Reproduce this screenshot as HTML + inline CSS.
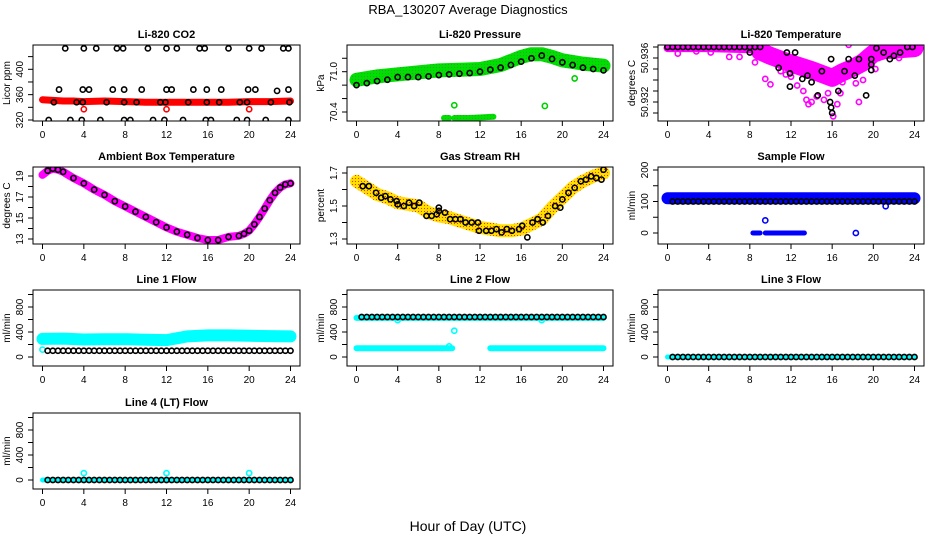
<!DOCTYPE html>
<html><head><meta charset="utf-8"><title>RBA_130207 Average Diagnostics</title>
<style>
html,body{margin:0;padding:0;background:#fff;}
svg{display:block;font-family:"Liberation Sans",Arial,sans-serif;}
</style></head>
<body>
<svg id="chart" width="936" height="540" viewBox="0 0 936 540" xmlns="http://www.w3.org/2000/svg">
<defs>
<pattern id="greenpat" width="3" height="3" patternUnits="userSpaceOnUse"><rect width="3" height="3" fill="#00e000"/><rect x="1" y="1" width="1" height="1" fill="#30a030"/></pattern>
<pattern id="rhpat" width="3" height="3" patternUnits="userSpaceOnUse"><rect width="3" height="3" fill="#ffe000"/><rect x="1" y="1" width="1" height="1" fill="#ff3000"/></pattern>
</defs>
<text x="468" y="14" text-anchor="middle" font-size="13">RBA_130207  Average Diagnostics</text>
<text x="468" y="531" text-anchor="middle" font-size="14">Hour of Day (UTC)</text>
</svg>
<script>
// ---- data ----
const halfHours = [0.5,1,1.5,2,2.5,3,3.5,4,4.5,5,5.5,6,6.5,7,7.5,8,8.5,9,9.5,10,10.5,11,11.5,12,12.5,13,13.5,14,14.5,15,15.5,16,16.5,17,17.5,18,18.5,19,19.5,20,20.5,21,21.5,22,22.5,23,23.5,24];
const xTicks = [0,4,8,12,16,20,24];

// CO2
const co2BandH = [0,1,2,3,4,6,8,10,12,14,16,18,20,22,24];
const co2BandV = [352,351,350,350,349,350,349,348,348,348,348,348,349,349,350];
const co2RedOutH = [4,12,20];
const co2RedOutV = [337,337,337];
const co2BlackH = [2.2,4,5.2,7.2,7.8,10.2,12,13,15.2,15.7,18,20,21.2,23.3,23.8,
 1.6,3.9,4.5,6.8,7.9,9.6,12,12.5,14.6,15.9,17.3,19.9,20.6,22.7,23.8,
 1.1,3.3,3.9,6.2,7.9,9.1,11.4,11.9,14.1,15.9,17.1,19.1,19.8,22.1,23.9,
 0.6,2.7,3.8,5.6,7.9,8.5,10.7,11.8,13.6,15.8,16.3,18.8,19.8,21.6,23.8];
const co2BlackV = [433,433,433,433,433,433,433,433,433,433,433,433,433,433,433,
 368,368,368,368,368,368,368,368,368,368,368,368,368,366,368,
 348,348,348,348,348,348,348,348,348,348,348,348,348,348,348,
 320,320,320,320,320,320,320,320,320,320,320,320,320,320,320];

// Pressure
const presBandH = [0,2,4,6,8,10,12,14,16,17,18,19,20,22,24];
const presBandV = [70.88,70.93,70.96,70.99,71.02,71.03,71.04,71.10,71.22,71.26,71.26,71.22,71.17,71.12,71.09];
const presLowAH = [8.5,9.0];
const presLowAV = [70.31,70.31];
const presLowBH = [9.5,11,13.3];
const presLowBV = [70.31,70.31,70.33];
const presOutH = [9.5,18.3,21.2];
const presOutV = [70.50,70.49,70.90];
const presBlackH = [0,1,2,3,4,5,6,7,8,9,10,11,12,13,14,15,16,17,18,19,20,21,22,23,24];
const presBlackV = [70.80,70.83,70.86,70.88,70.92,70.92,70.92,70.93,70.95,70.96,70.97,70.98,71.00,71.03,71.06,71.10,71.15,71.20,71.24,71.19,71.14,71.10,71.06,71.04,71.02];

// Li-820 temperature
const tempTopH = [0,4,8,9];
const tempTopV = [50.9369,50.9369,50.9368,50.9366];
const tempBandH = [9,10,12,14,16,17,18,19,20,21,24];
const tempBandV = [50.9366,50.9362,50.9355,50.9349,50.9342,50.9347,50.9351,50.9356,50.9364,50.9367,50.9369];
const tempMagH = [1,2.8,4.2,6,7,8.5,9.5,10,11,11.5,12,12.6,13.2,13.5,14,14.5,15.2,15.6,16.1,16.5,16.8,17,17.6,18.3,18.6,19,20.2,20.5,22.5,13.7];
const tempMagV = [50.9364,50.9366,50.9365,50.9361,50.9361,50.9356,50.9341,50.9336,50.9348,50.9345,50.9343,50.9335,50.9330,50.9322,50.9320,50.9325,50.9322,50.9328,50.9307,50.9318,50.9328,50.9338,50.9372,50.9337,50.9320,50.9340,50.9350,50.9360,50.9360,50.9318];
const tempBlackH = [0,0.5,1,1.5,2,2.5,3,3.5,4,4.5,5,5.5,6,6.5,7,7.5,8,8.5,9,
 8,10.8,11.6,11.9,11.9,12.4,13.1,13.6,14.0,14.6,15.0,15.8,15.9,16.0,15.9,16.6,17.2,17.6,18.2,18.6,19.3,19.8,19.8,19.8,20.3,21.0,21.6,22.0,22.6,23.3,23.8];
const tempBlackV = [50.937,50.937,50.937,50.937,50.937,50.937,50.937,50.937,50.937,50.937,50.937,50.937,50.937,50.937,50.937,50.937,50.937,50.937,50.937,
 50.9365,50.9351,50.9365,50.9346,50.9334,50.9365,50.9341,50.9344,50.9338,50.9326,50.9348,50.9320,50.9315,50.9310,50.9359,50.9330,50.9348,50.9359,50.9344,50.9359,50.9326,50.9359,50.9354,50.9349,50.9369,50.9365,50.9359,50.9362,50.9365,50.9370,50.9370];

// Ambient box temperature
const ambH = [0,0.5,1,1.5,2,3,4,5,6,7,8,9,10,11,12,13,14,15,16,17,18,19,19.5,20,20.5,21,21.5,22,22.5,23,23.5,24];
const ambV = [19.1,19.5,19.7,19.6,19.4,18.8,18.3,17.7,17.2,16.6,16.1,15.6,15.1,14.6,14.1,13.7,13.4,13.1,12.9,12.9,13.2,13.3,13.5,13.8,14.4,15.1,15.9,16.7,17.4,17.9,18.2,18.3];

// Gas stream RH
const rhBandH = [0,1,2,3,4,5,6,7,8,9,10,11,12,13,14,15,16,17,18,19,20,21,22,23,24];
const rhBandV = [1.65,1.61,1.57,1.55,1.52,1.51,1.50,1.46,1.44,1.43,1.41,1.39,1.37,1.36,1.35,1.35,1.36,1.39,1.42,1.49,1.55,1.61,1.65,1.68,1.70];
const rhBlackH = [0.6,1.2,1.9,2.4,2.8,3.3,3.9,4.0,4.6,5.1,5.6,6.1,6.8,7.3,7.8,8.0,8.0,8.6,9.1,9.6,10.1,10.6,11.2,11.8,11.9,12.6,13.1,13.6,14.1,14.6,15.1,15.8,16.1,16.6,17.1,17.6,18.1,18.6,19.3,19.8,20.0,20.6,21.2,21.8,22.3,22.8,23.3,23.8,24];
const rhBlackV = [1.62,1.62,1.58,1.55,1.56,1.54,1.53,1.51,1.50,1.52,1.50,1.52,1.44,1.44,1.45,1.47,1.49,1.46,1.42,1.42,1.42,1.40,1.40,1.40,1.35,1.35,1.35,1.36,1.34,1.36,1.35,1.36,1.38,1.31,1.40,1.42,1.40,1.44,1.50,1.49,1.54,1.58,1.61,1.65,1.66,1.68,1.67,1.66,1.72];

// Sample flow
const sfBandH = [0,24];
const sfBandV = [110,110];
const sfZeroAH = [8.3,9.0];
const sfZeroAV = [0,0];
const sfZeroBH = [9.5,13.3];
const sfZeroBV = [0,0];
const sfOutH = [9.5,18.3,21.2];
const sfOutV = [40,0,85];
const sfBlackV = [100,100,100,100,100,100,100,100,100,100,100,100,100,100,100,100,100,100,100,100,100,100,100,100,100,100,100,100,100,100,100,100,100,100,100,100,100,100,100,100,100,100,100,100,100,100,100,100];

// Line flows
const l1BandH = [0,2,4,6,8,10,12,13,14,16,18,20,22,24];
const l1BandV = [290,295,280,285,285,275,270,300,330,345,345,340,335,330];
const l1BlackV = [100,100,100,100,100,100,100,100,100,100,100,100,100,100,100,100,100,100,100,100,100,100,100,100,100,100,100,100,100,100,100,100,100,100,100,100,100,100,100,100,100,100,100,100,100,100,100,100];
const l2UpperH = [0,24];
const l2UpperV = [625,625];
const l2LowAH = [0,9.3];
const l2LowAV = [140,140];
const l2LowBH = [13,24];
const l2LowBV = [140,140];
const l2OutH = [9.5,4,18,9];
const l2OutV = [420,590,590,170];
const l2BlackV = [640,640,640,640,640,640,640,640,640,640,640,640,640,640,640,640,640,640,640,640,640,640,640,640,640,640,640,640,640,640,640,640,640,640,640,640,640,640,640,640,640,640,640,640,640,640,640,640];
const flatBandH = [0,24];
const flatBandV = [0,0];
const zeroBlackV = [0,0,0,0,0,0,0,0,0,0,0,0,0,0,0,0,0,0,0,0,0,0,0,0,0,0,0,0,0,0,0,0,0,0,0,0,0,0,0,0,0,0,0,0,0,0,0,0];
const l4OutH = [4,12,20];
const l4OutV = [110,110,110];

// ---- drawing ----
const NS = "http://www.w3.org/2000/svg";
const svg = document.getElementById('chart');
function mk(tag, attrs, parent){
  const e = document.createElementNS(NS, tag);
  for (const k in attrs) e.setAttribute(k, attrs[k]);
  (parent||svg).appendChild(e);
  return e;
}
function makePanel(id, title, x0, y0, x1, y1, d0, p0, d1, p1, ticks, labels, labelText, ylab){
  const g = mk('g', {});
  
  
  const P = {g:g, x0:x0, x1:x1, y0:y0, y1:y1};
  P.x = h => x0 + 9.5 + h * (x1 - x0 - 19) / 24;
  P.y = v => p0 + (v - d0) * (p1 - p0) / (d1 - d0);
  const clip = mk('clipPath', {id: 'clip-' + id}, g);
  mk('rect', {x:x0, y:y0, width:x1-x0, height:y1-y0}, clip);
  P.data = mk('g', {'clip-path': 'url(#clip-' + id + ')'}, g);
  
  
  const frame = mk('rect', {x:x0, y:y0, width:x1-x0, height:y1-y0, fill:'none', stroke:'#000', 'stroke-width':1}, g);
  
  
  const t = mk('text', {x:(x0+x1)/2, y:y0-7, 'text-anchor':'middle', 'font-size':11, 'font-weight':'bold'}, g);
  t.textContent = title;
  
  
  xTicks.forEach(h => {
    const xx = P.x(h);
    mk('line', {x1:xx, y1:y1, x2:xx, y2:y1+5, stroke:'#000'}, g);
    const lt = mk('text', {x:xx, y:y1+17, 'text-anchor':'middle', 'font-size':10}, g);
    lt.textContent = String(h);
    
    
  });
  ticks.forEach(v => {
    const yy = P.y(v);
    if (yy < y0 - 1 || yy > y1 + 1) return;
    mk('line', {x1:x0-5, y1:yy, x2:x0, y2:yy, stroke:'#000'}, g);
  });
  labels.forEach((v,i) => {
    const yy = P.y(v);
    const lt = mk('text', {x:0, y:0, 'text-anchor':'middle', 'font-size':10, transform:'translate(' + (x0-10) + ',' + yy + ') rotate(-90)'}, g);
    lt.textContent = labelText[i];
    
    
  });
  const yl = mk('text', {x:0, y:0, 'text-anchor':'middle', 'font-size':10, transform:'translate(' + (x0-23) + ',' + ((y0+y1)/2) + ') rotate(-90)'}, g);
  yl.textContent = ylab;
  
  
  return P;
}
function band(P, H, V, color, w, name){
  const pts = H.map((h,i) => P.x(h).toFixed(1) + ',' + P.y(V[i]).toFixed(1)).join(' ');
  const pl = mk('polyline', {points:pts, fill:'none', stroke:color, 'stroke-width':w, 'stroke-linecap':'round', 'stroke-linejoin':'round'}, P.data);
  
  
}
function dots(P, H, V, color, name, r){
  H.forEach((h,i) => {
    const c = mk('circle', {cx:P.x(h), cy:P.y(V[i]), r:r||2.6, fill:'none', stroke:color, 'stroke-width':1.6}, P.data);
    
    
  });
}

// Row 1
const pCO2 = makePanel('co2', 'Li-820 CO2', 33,45,300,121, 320,120, 400,69.3, [320,340,360,380,400,420], [320,360,400], ['320','360','400'], 'Licor ppm');
band(pCO2, co2BandH, co2BandV, '#ff0000', 7, 'co2-raw-band');
dots(pCO2, co2RedOutH, co2RedOutV, '#ff0000', 'co2-raw-point');
dots(pCO2, co2BlackH, co2BlackV, '#000', 'co2-mean-point');

const pPres = makePanel('pressure', 'Li-820 Pressure', 347,45,613,121, 70.4,112, 71.0,71.7, [70.4,70.6,70.8,71.0,71.2], [70.4,71.0], ['70.4','71.0'], 'kPa');
band(pPres, presBandH, presBandV, 'url(#greenpat)', 14, 'pressure-raw-band');
band(pPres, presLowAH, presLowAV, 'url(#greenpat)', 6, 'pressure-low-band');
band(pPres, presLowBH, presLowBV, 'url(#greenpat)', 6, 'pressure-low-band');
dots(pPres, presOutH, presOutV, '#00d000', 'pressure-raw-point');
dots(pPres, presBlackH, presBlackV, '#000', 'pressure-mean-point');

const pTemp = makePanel('li820-temp', 'Li-820 Temperature', 658,45,924,121, 50.936,58, 50.932,102, [50.931,50.932,50.933,50.934,50.935,50.936,50.937], [50.932,50.936], ['50.932','50.936'], 'degrees C');
band(pTemp, tempTopH, tempTopV, '#ff00ff', 8, 'li820-temp-raw-band');
band(pTemp, tempBandH, tempBandV, '#ff00ff', 18, 'li820-temp-raw-band');
dots(pTemp, tempMagH, tempMagV, '#ff00ff', 'li820-temp-raw-point');
dots(pTemp, tempBlackH, tempBlackV, '#000', 'li820-temp-mean-point');

// Row 2
const pAmb = makePanel('ambient', 'Ambient Box Temperature', 33,167,300,244, 13,239, 19,176, [13,14,15,16,17,18,19,20], [13,15,17,19], ['13','15','17','19'], 'degrees C');
band(pAmb, ambH, ambV, '#ff00ff', 8, 'ambient-raw-band');
dots(pAmb, ambH.slice(1), ambV.slice(1), '#000', 'ambient-mean-point');

const pRH = makePanel('rh', 'Gas Stream RH', 347,167,613,244, 1.3,239, 1.7,173, [1.3,1.4,1.5,1.6,1.7], [1.3,1.5,1.7], ['1.3','1.5','1.7'], 'percent');
band(pRH, rhBandH, rhBandV, 'url(#rhpat)', 13, 'rh-raw-band');
dots(pRH, rhBlackH, rhBlackV, '#000', 'rh-mean-point');

const pSF = makePanel('sample-flow', 'Sample Flow', 658,167,924,244, 0,233, 200,170, [0,50,100,150,200], [0,100,200], ['0','100','200'], 'ml/min');
band(pSF, sfBandH, sfBandV, '#0000ff', 12, 'sample-flow-raw-band');
band(pSF, sfZeroAH, sfZeroAV, '#0000ff', 5, 'sample-flow-zero-band');
band(pSF, sfZeroBH, sfZeroBV, '#0000ff', 5, 'sample-flow-zero-band');
dots(pSF, sfOutH, sfOutV, '#0000ff', 'sample-flow-raw-point');
dots(pSF, halfHours, sfBlackV, '#000', 'sample-flow-mean-point');

// Row 3
const flowTicks = [0,200,400,600,800,1000];
const flowLabels = [0,400,800];
const flowLabelText = ['0','400','800'];
const pL1 = makePanel('line1', 'Line 1 Flow', 33,290,300,366, 0,357, 800,307, flowTicks, flowLabels, flowLabelText, 'ml/min');
band(pL1, l1BandH, l1BandV, '#00ffff', 12, 'line1-raw-band');
dots(pL1, [0], [118], '#00ffff', 'line1-raw-point');
dots(pL1, halfHours, l1BlackV, '#000', 'line1-mean-point');

const pL2 = makePanel('line2', 'Line 2 Flow', 347,290,613,366, 0,357, 800,307, flowTicks, flowLabels, flowLabelText, 'ml/min');
band(pL2, l2UpperH, l2UpperV, '#00ffff', 6, 'line2-raw-band');
band(pL2, l2LowAH, l2LowAV, '#00ffff', 6, 'line2-low-band');
band(pL2, l2LowBH, l2LowBV, '#00ffff', 6, 'line2-low-band');
dots(pL2, l2OutH, l2OutV, '#00ffff', 'line2-raw-point');
dots(pL2, halfHours, l2BlackV, '#000', 'line2-mean-point');

const pL3 = makePanel('line3', 'Line 3 Flow', 658,290,924,366, 0,357, 800,307, flowTicks, flowLabels, flowLabelText, 'ml/min');
band(pL3, flatBandH, flatBandV, '#00ffff', 5, 'line3-raw-band');
dots(pL3, halfHours, zeroBlackV, '#000', 'line3-mean-point');

// Row 4
const pL4 = makePanel('line4', 'Line 4 (LT) Flow', 33,413,300,489, 0,480, 800,430, flowTicks, flowLabels, flowLabelText, 'ml/min');
band(pL4, flatBandH, flatBandV, '#00ffff', 5, 'line4-raw-band');
dots(pL4, l4OutH, l4OutV, '#00ffff', 'line4-raw-point');
dots(pL4, halfHours, zeroBlackV, '#000', 'line4-mean-point');
</script>
</body></html>
